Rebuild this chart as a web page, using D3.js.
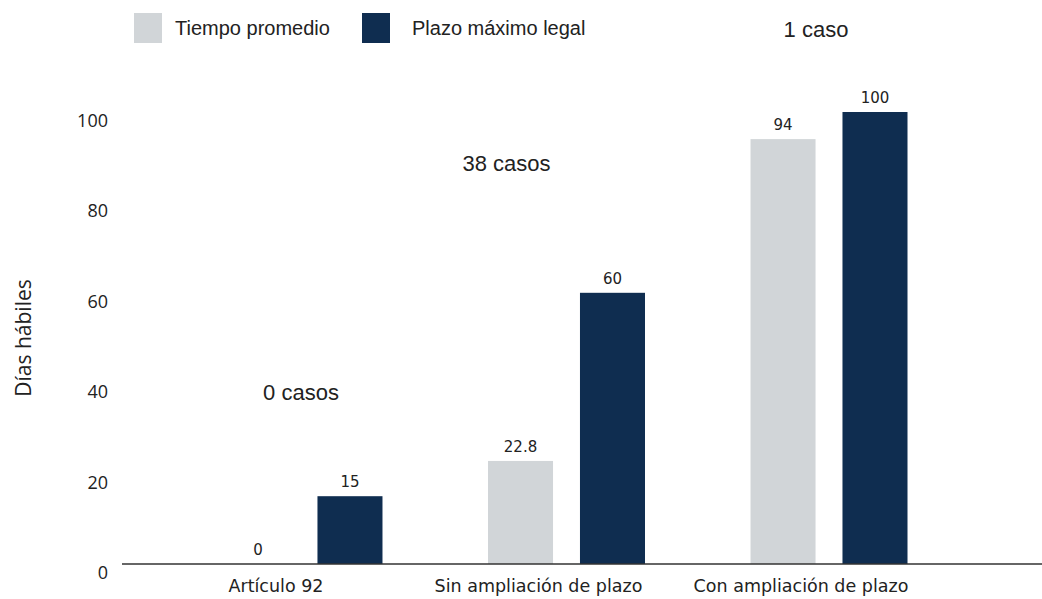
<!DOCTYPE html>
<html>
<head>
<meta charset="utf-8">
<script src="https://cdn.jsdelivr.net/npm/d3@7"></script>
<style>
body { margin: 0; background: #fff; }
svg { display: block; }
</style>
</head>
<body>
<svg width="1042" height="599"></svg>
<script>
var categories = ["Artículo 92", "Sin ampliación de plazo", "Con ampliación de plazo"];
var series = ["Tiempo promedio", "Plazo máximo legal"];
var promedio = [0, 22.8, 94];
var plazo = [15, 60, 100];
var casos = ["0 casos", "38 casos", "1 caso"];
var casosY = [36.3, 86.9, 116.6];
var yTicks = [0, 20, 40, 60, 80, 100];
var colors = ["#d1d5d8", "#0f2d50"];

var svg = d3.select("svg");

var x = d3.scaleBand().domain(categories).range([225.5, 907.5]).paddingInner(0.402);
var xs = d3.scaleBand().domain(series).range([0, x.bandwidth()]).paddingInner(0.293);
var y = d3.scaleLinear().domain([0, 100]).range([564, 112]);

var rows = categories.map(function(c, i) {
	return { cat: c, vals: [promedio[i], plazo[i]] };
});

// bars
var g = svg.append("g").selectAll("g")
	.data(rows)
	.enter().append("g")
		.attr("transform", function(d) { return "translate(" + x(d.cat) + ",0)"; });

g.selectAll("rect")
	.data(function(d) { return d.vals.map(function(v, j) { return { s: series[j], v: v, j: j }; }); })
	.enter().append("rect")
		.attr("x", function(d) { return xs(d.s); })
		.attr("width", xs.bandwidth())
		.attr("y", function(d) { return y(d.v); })
		.attr("height", function(d) { return y(0) - y(d.v); })
		.attr("fill", function(d) { return colors[d.j]; });

g.selectAll("text")
	.data(function(d) { return d.vals.map(function(v, j) { return { s: series[j], v: v }; }); })
	.enter().append("text")
		.attr("x", function(d) { return xs(d.s) + xs.bandwidth() / 2; })
		.attr("y", function(d) { return y(d.v) - 9; })
		.attr("text-anchor", "middle")
		.attr("font-family", "DejaVu Sans, sans-serif")
		.attr("font-size", 15)
		.attr("fill", "#222")
		.text(function(d) { return d.v; });

// x axis
svg.append("line")
	.attr("x1", 122).attr("x2", 1042)
	.attr("y1", y(0)).attr("y2", y(0))
	.attr("stroke", "#333").attr("stroke-width", 1.5);

svg.append("g").selectAll("text")
	.data(categories)
	.enter().append("text")
		.attr("x", function(d) { return x(d) + x.bandwidth() / 2 - 28; })
		.attr("y", 592)
		.attr("text-anchor", "middle")
		.attr("font-family", "DejaVu Sans, sans-serif")
		.attr("font-size", 17.5)
		.attr("fill", "#222")
		.text(function(d) { return d; });

// y axis labels
svg.append("g").selectAll("text")
	.data(yTicks)
	.enter().append("text")
		.attr("x", 108)
		.attr("y", function(d) { return y(d) + 15; })
		.attr("text-anchor", "end")
		.attr("font-family", "Open Sans, sans-serif")
		.attr("font-size", 18)
		.attr("fill", "#222")
		.text(function(d) { return d; });

svg.append("text")
	.attr("transform", "translate(31,338) rotate(-90)")
	.attr("text-anchor", "middle")
	.attr("font-family", "Open Sans, sans-serif")
	.attr("font-size", 21)
	.attr("fill", "#222")
	.text("Días hábiles");

// case counts
svg.append("g").selectAll("text")
	.data(casos)
	.enter().append("text")
		.attr("x", function(d, i) { return x(categories[i]) + x.bandwidth() / 2 + [-3, -60, -13][i]; })
		.attr("y", function(d, i) { return y(casosY[i]); })
		.attr("text-anchor", "middle")
		.attr("font-family", "Liberation Sans, Arial, sans-serif")
		.attr("font-size", 22)
		.attr("fill", "#222")
		.text(function(d) { return d; });

// legend
var leg = svg.append("g").selectAll("g")
	.data(series)
	.enter().append("g")
		.attr("transform", function(d, i) { return "translate(" + [134, 362][i] + ",13)"; });
leg.append("rect")
	.attr("width", 28).attr("height", 30)
	.attr("fill", function(d, i) { return colors[i]; });
leg.append("text")
	.attr("x", function(d, i) { return [41, 50][i]; })
	.attr("y", 22)
	.attr("font-family", "Liberation Sans, Arial, sans-serif")
	.attr("font-size", 20)
	.attr("fill", "#222")
	.text(function(d) { return d; });
</script>
</body>
</html>
